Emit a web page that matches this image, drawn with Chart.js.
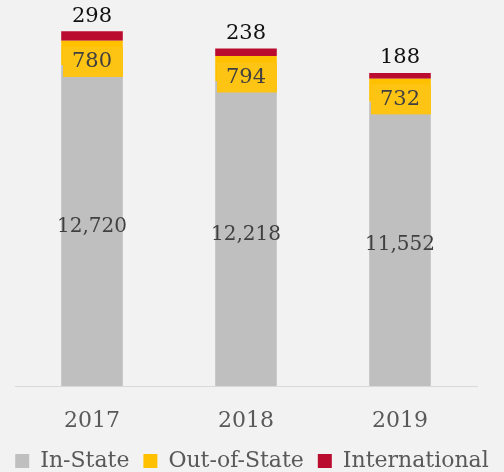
<!DOCTYPE html>
<html>
<head>
<meta charset="utf-8">
<script src="https://cdn.jsdelivr.net/npm/chart.js@4/dist/chart.umd.min.js"></script>
<style>
html,body{margin:0;padding:0;background:#f2f2f2;}
#wrap{width:504px;height:472px;position:relative;}
</style>
</head>
<body>
<div id="wrap"><canvas id="c" width="504" height="472"></canvas></div>
<script>
const years = ['2017', '2018', '2019'];
const inState = [12720, 12218, 11552];
const outOfState = [780, 794, 732];
const international = [298, 238, 188];
const seriesNames = ['In-State', 'Out-of-State', 'International'];

const FONT = '"DejaVu Serif", "Liberation Serif", serif';
const fmt = v => v.toLocaleString('en-US');

const labelPlugin = {
  id: 'segLabels',
  afterDatasetsDraw(chart) {
    const ctx = chart.ctx;
    const bottom = chart.chartArea.bottom;
    ctx.save();
    ctx.textAlign = 'center';
    ctx.textBaseline = 'middle';
    chart.data.datasets.forEach((ds, di) => {
      const meta = chart.getDatasetMeta(di);
      meta.data.forEach((bar, i) => {
        const p = bar.getProps(['x', 'y', 'base', 'width'], true);
        const base = Math.min(p.base, bottom);
        const v = ds.data[i];
        if (di === 0) {
          ctx.font = '20px ' + FONT;
          ctx.fillStyle = '#404040';
          ctx.fillText(fmt(v), p.x, (p.y + base) / 2 + 1);
        } else if (di === 1) {
          ctx.font = '21px ' + FONT;
          const cy = (p.y + base) / 2 + 8;
          ctx.fillStyle = '#FEC414';
          ctx.fillRect(p.x - 29, cy - 14, 60, 30);
          ctx.fillStyle = '#404040';
          ctx.fillText(fmt(v), p.x, cy + 1);
        } else {
          ctx.font = '21px ' + FONT;
          ctx.fillStyle = '#111111';
          ctx.fillText(fmt(v), p.x, p.y - 15);
        }
      });
    });
    ctx.restore();
  }
};

new Chart(document.getElementById('c'), {
  type: 'bar',
  data: {
    labels: years,
    datasets: [
      { label: seriesNames[0], data: inState, backgroundColor: '#BFBFBF' },
      { label: seriesNames[1], data: outOfState, backgroundColor: '#FFC000' },
      { label: seriesNames[2], data: international, backgroundColor: '#BA0C2F' }
    ]
  },
  options: {
    responsive: false,
    animation: false,
    devicePixelRatio: 1,
    layout: { padding: { top: 25, bottom: -10 } },
    datasets: { bar: { categoryPercentage: 1, barPercentage: 0.4 } },
    scales: {
      x: {
        stacked: true,
        grid: { display: false, drawTicks: false },
        border: { display: true, color: '#D9D9D9', width: 1 },
        ticks: { color: '#595959', font: { family: FONT, size: 22 }, padding: 22 },
        afterFit(s) { s.height = 50; }
      },
      y: {
        stacked: true,
        min: 2500,
        max: 14000,
        display: true,
        grid: { display: false, drawTicks: false },
        border: { display: false },
        ticks: { display: false },
        afterFit(s) { s.width = 15; }
      },
      y2: {
        position: 'right',
        display: true,
        grid: { display: false, drawTicks: false },
        border: { display: false },
        ticks: { display: false },
        afterFit(s) { s.width = 27; }
      }
    },
    plugins: {
      tooltip: { enabled: false },
      legend: {
        position: 'bottom',
        labels: {
          boxWidth: 14,
          boxHeight: 14,
          padding: 14,
          color: '#595959',
          font: { family: FONT, size: 22 }
        }
      }
    }
  },
  plugins: [labelPlugin]
});
</script>
</body>
</html>
